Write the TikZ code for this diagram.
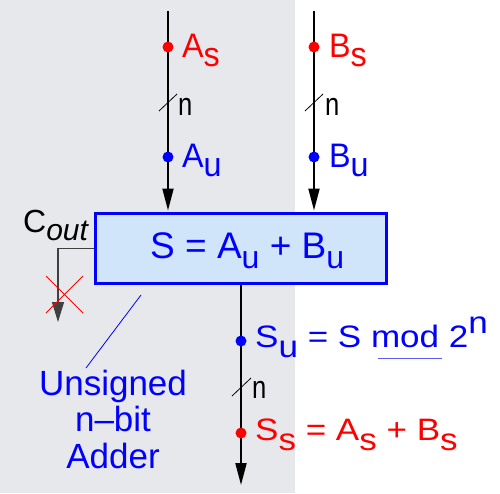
\documentclass[tikz,border=0pt]{standalone}
\usepackage{fontspec}
\setmainfont{Liberation Sans}
\usetikzlibrary{arrows.meta,calc}
\definecolor{bgray}{RGB}{231,232,236}
\definecolor{boxfill}{RGB}{208,229,250}
\definecolor{myblue}{RGB}{0,0,255}
\definecolor{myred}{RGB}{255,0,0}
\definecolor{ulblue}{RGB}{90,90,240}
\newcommand{\fsz}[1]{\fontsize{#1}{#1}\selectfont}
\newcommand{\lo}[1]{\raisebox{-9pt}{#1}}
\newcommand{\lox}[1]{\raisebox{-10pt}{#1}}
\begin{document}
\begin{tikzpicture}[x=1pt,y=-1pt,
  wire/.style={line width=2pt, draw=black, -{Triangle[width=11pt,length=22pt]}},
  cwire/.style={line width=1.3pt, draw=black!75, -{Triangle[width=12pt,length=20pt]}},
  slashmark/.style={line width=0.8pt, draw=black},
  bigdot/.style={circle, inner sep=0pt, minimum size=11pt},
  lab/.style={anchor=base west, inner sep=0pt, font=\fsz{34}},
  nlab/.style={anchor=base west, inner sep=0pt, font=\fsz{32}},
  outlab/.style={anchor=base west, inner sep=0pt, font=\fsz{31}},
  adderbox/.style={draw=myblue, line width=3pt, fill=boxfill, minimum width=291pt, minimum height=70pt, inner sep=0pt}
]
\useasboundingbox (0,0) rectangle (500,493);
\fill[bgray] (0,0) rectangle (295,493);

% adder box
\node[adderbox] (adder) at (241,248.5) {};
\node[anchor=base west, inner sep=0pt, font=\fsz{37}, text=myblue] (eqS) at (150,258)
  {S = A\raisebox{-10pt}{\fsz{32}u} + B\raisebox{-10pt}{\fsz{32}u}};

% input wires
\coordinate (aTop) at (168,11);
\coordinate (bTop) at (314,11);
\draw[wire, shorten >=1.5pt] (aTop) -- (aTop |- adder.north);
\draw[wire, shorten >=1.5pt] (bTop) -- (bTop |- adder.north);
\draw[slashmark] (159,111) -- (177,94);
\draw[slashmark] (305,111) -- (323,94);

\node[bigdot, fill=myred] (dAs) at (168,47) {};
\node[bigdot, fill=myblue] (dAu) at (168,157) {};
\node[bigdot, fill=myred] (dBs) at (314,47) {};
\node[bigdot, fill=myblue] (dBu) at (314,157) {};

\node[lab, text=myred] (tAs) at (182,57) {\scalebox{0.95}[1]{A\lo{s}}};
\node[nlab] (nA) at (178,115) {\scalebox{0.8}[1]{n}};
\node[lab, text=myblue] (tAu) at (182,167) {\scalebox{0.95}[1]{A\lo{u}}};
\node[lab, text=myred] (tBs) at (329,57) {\scalebox{0.95}[1]{B\lo{s}}};
\node[nlab] (nB) at (325,115) {\scalebox{0.8}[1]{n}};
\node[lab, text=myblue] (tBu) at (329,167) {\scalebox{0.95}[1]{B\lo{u}}};

% output wire
\coordinate (sEnd) at (241,485);
\draw[wire] (adder.south) -- (sEnd);
\draw[slashmark] (232,396) -- (251,378);
\node[bigdot, fill=myblue] (dSu) at (241,341) {};
\node[bigdot, fill=myred] (dSs) at (241,433) {};
\node[outlab, text=myblue] (tSu) at (255,347)
  {\scalebox{1.13}[1]{S\lox{u} = S mod 2\raisebox{14pt}{n}}};
\draw[ulblue, line width=0.8pt] (378,358) -- (442,358);
\node[nlab] (nS) at (252,398) {\scalebox{0.8}[1]{n}};
\node[outlab, text=myred] (tSs) at (255,440)
  {\scalebox{1.13}[1]{S\lox{s} = A\lox{s} + B\lox{s}}};

% carry out
\node[nlab] (tCout) at (23,232) {C\raisebox{-8pt}{\fsz{30}\itshape out}};
\coordinate (coutEnd) at (58,322);
\draw[cwire] (adder.west) -| (coutEnd);
\coordinate (xc) at (64.5,294.5);
\draw[myred, line width=0.8pt] ($(xc)+(-18.5,-18.5)$) -- ($(xc)+(18.5,18.5)$)
  ($(xc)+(-18.5,18.5)$) -- ($(xc)+(18.5,-18.5)$);

% label
\node[align=center, inner sep=0pt, anchor=base, text=myblue, font=\fontsize{35}{36.5}\selectfont] (tLbl) at (113,468) {Unsigned\\n–bit\\Adder};
\coordinate (lblA) at (141,295);
\coordinate (lblB) at (86,368);
\draw[myblue, line width=0.8pt] (lblA) -- (lblB);
\end{tikzpicture}
\end{document}
